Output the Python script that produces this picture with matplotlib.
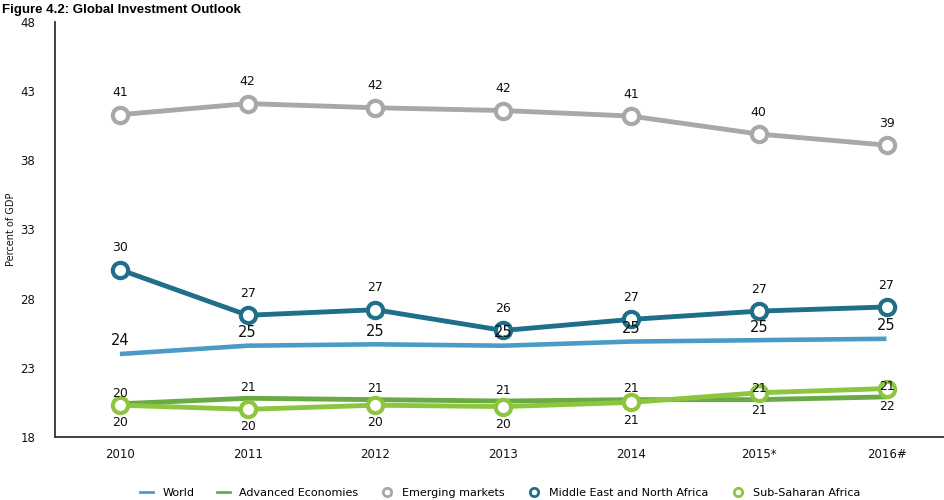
import numpy as np
import matplotlib
matplotlib.use("Agg")
import matplotlib.pyplot as plt
from matplotlib.lines import Line2D

years = ["2010", "2011", "2012", "2013", "2014", "2015*", "2016#"]
world = [24.0, 24.6, 24.7, 24.6, 24.9, 25.0, 25.1]
advanced = [20.4, 20.8, 20.7, 20.6, 20.7, 20.7, 20.9]
emerging = [41.3, 42.1, 41.8, 41.6, 41.2, 39.9, 39.1]
mena = [30.1, 26.8, 27.2, 25.7, 26.5, 27.1, 27.4]
ssa = [20.3, 20.0, 20.3, 20.2, 20.5, 21.2, 21.5]
yticks = [18, 23, 28, 33, 38, 43, 48]

c_world = "#4a9cc6"
c_adv = "#6aaa45"
c_emg = "#a8a8a8"
c_mena = "#1f6f8b"
c_ssa = "#8cc63f"


def lab(v):
    return str(int(np.floor(v + 0.5)))


fig = plt.figure(figsize=(9.44, 5.0), dpi=100)
ax = fig.add_axes([0.058, 0.126, 0.942, 0.830])
x = np.arange(len(years))

mk = dict(marker="o", markersize=11, markerfacecolor="white", markeredgewidth=3)
ax.plot(x, world, color=c_world, lw=3.3, solid_capstyle="butt", zorder=2)
ax.plot(x, advanced, color=c_adv, lw=3.5, solid_capstyle="butt", zorder=3)
ax.plot(x, ssa, color=c_ssa, lw=3.5, markeredgecolor=c_ssa, zorder=4, **mk)
ax.plot(x, emerging, color=c_emg, lw=3.5, markeredgecolor=c_emg, zorder=3, **mk)
ax.plot(x, mena, color=c_mena, lw=3.5, markeredgecolor=c_mena, zorder=3, **mk)

tk = dict(ha="center", fontsize=9, color="#111111", zorder=6)
for i in x:
    ax.annotate(lab(emerging[i]), (i, emerging[i]), xytext=(0, 11), textcoords="offset points", va="bottom", **tk)
    ax.annotate(lab(mena[i]), (i, mena[i]), xytext=(0, 11), textcoords="offset points", va="bottom", **tk)
    ax.annotate(lab(world[i]), (i, world[i]), xytext=(0, 4), textcoords="offset points", va="bottom",
                ha="center", fontsize=10.5, color="#111111", zorder=6)
    ax.annotate(lab(advanced[i]), (i, advanced[i]), xytext=(0, 3), textcoords="offset points", va="bottom", **tk)
    ax.annotate(lab(ssa[i]), (i, ssa[i]), xytext=(0, -8), textcoords="offset points", va="top", **tk)

ax.set_xlim(-0.51, 6.45)
ax.set_ylim(18, 48)
ax.set_yticks(yticks)
ax.set_xticks(x)
ax.set_xticklabels(years)
ax.tick_params(axis="both", length=0, labelsize=8.5, colors="#111111")
ax.tick_params(axis="y", pad=14)
ax.tick_params(axis="x", pad=8)
for s in ["top", "right"]:
    ax.spines[s].set_visible(False)
for s in ["left", "bottom"]:
    ax.spines[s].set_color("#333333")
    ax.spines[s].set_linewidth(1.3)
ax.set_ylabel("Percent of GDP", fontsize=7, color="#111111")
ax.yaxis.set_label_coords(-0.044, 0.5)

fig.text(0.002, 0.974, "Figure 4.2: Global Investment Outlook", fontsize=9.5,
         fontweight="bold", family="Liberation Sans", ha="left", va="baseline")

handles = [
    Line2D([], [], color=c_world, lw=2),
    Line2D([], [], color=c_adv, lw=2),
    Line2D([], [], ls="none", marker="o", markersize=6, markerfacecolor="white",
           markeredgecolor=c_emg, markeredgewidth=2),
    Line2D([], [], ls="none", marker="o", markersize=6, markerfacecolor="white",
           markeredgecolor=c_mena, markeredgewidth=2),
    Line2D([], [], ls="none", marker="o", markersize=6, markerfacecolor="white",
           markeredgecolor=c_ssa, markeredgewidth=2),
]
names = ["World", "Advanced Economies", "Emerging markets",
         "Middle East and North Africa", "Sub-Saharan Africa"]
fig.legend(handles, names, loc="center", bbox_to_anchor=(0.53, 0.014), ncol=5,
           frameon=False, fontsize=8, handlelength=1.2, columnspacing=2.0,
           handletextpad=0.8)

fig.savefig("out.png", dpi=100)
